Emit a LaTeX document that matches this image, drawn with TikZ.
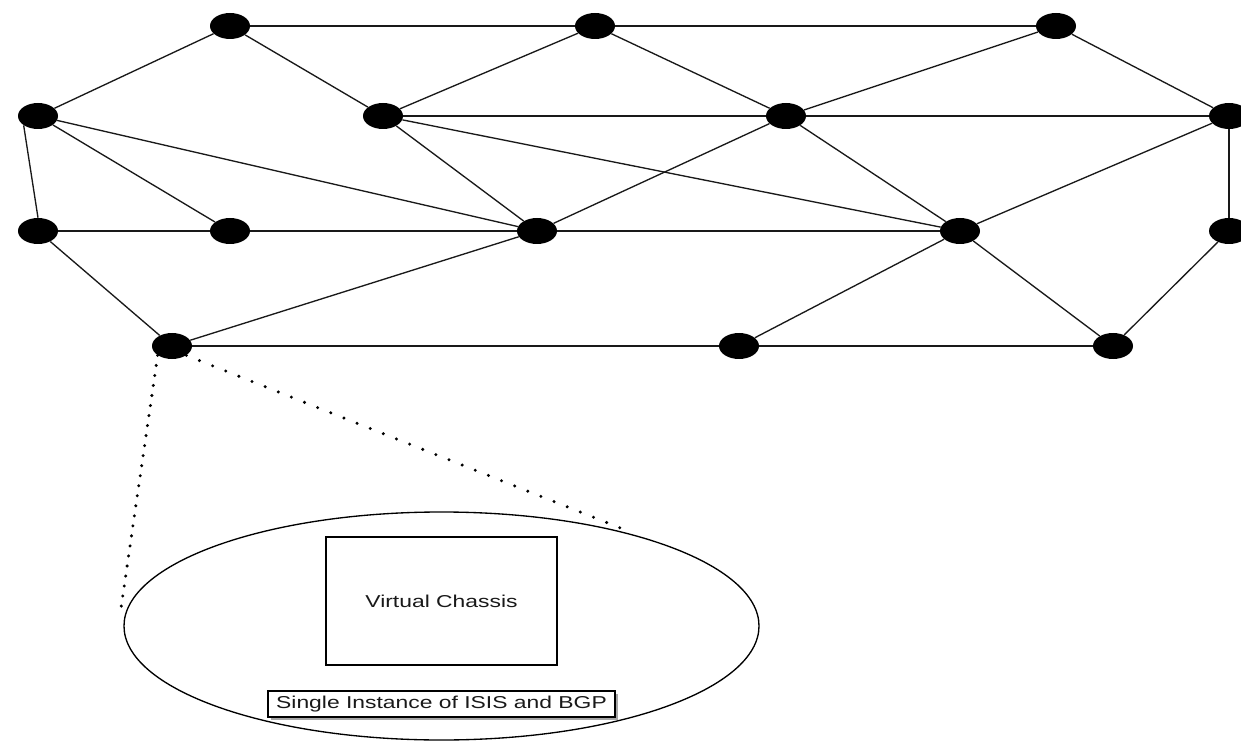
\documentclass[tikz,border=0pt]{standalone}
\usepackage{fontspec}
\usepackage{graphicx}
\setmainfont{Liberation Sans}
\usetikzlibrary{shapes.geometric,shadows}
\begin{document}
\begin{tikzpicture}[x=0.75pt,y=-0.75pt,
  dev/.style={ellipse,fill=black,draw=none,minimum width=30pt,minimum height=19.5pt,inner sep=0pt},
  link/.style={draw=black!90,line width=1pt},
  dots/.style={draw=black,line width=2.5pt,line cap=round,dash pattern=on 0pt off #1},
  lbl/.style={font=\fontsize{12.9pt}{14pt}\selectfont,text=black!90,inner sep=0pt},
  boxed/.style={draw=black,line width=1pt,fill=white}
]
\useasboundingbox (0,0) rectangle (1241,741);
\clip (0,0) rectangle (1241,741);

% devices
\node[dev] (A) at (230,26) {};
\node[dev] (B) at (595,26) {};
\node[dev] (C) at (1056,26) {};
\node[dev] (D) at (38,116) {};
\node[dev] (E) at (383,116) {};
\node[dev] (F) at (786,116) {};
\node[dev] (G) at (1229,116) {};
\node[dev] (H) at (38,231) {};
\node[dev] (I) at (230,231) {};
\node[dev] (J) at (537,231) {};
\node[dev] (K) at (960,231) {};
\node[dev] (L) at (1229,231) {};
\node[dev] (M) at (172,346) {};
\node[dev] (N) at (739,346) {};
\node[dev] (O) at (1113,346) {};

% links
\draw[link] (A) -- (B);
\draw[link] (B) -- (C);
\draw[link] (A) -- (D);
\draw[link] (A) -- (E);
\draw[link] (B) -- (E);
\draw[link] (B) -- (F);
\draw[link] (C) -- (F);
\draw[link] (C) -- (G);
\draw[link] (D.south west) -- (H.north);
\draw[link] (D) -- (I);
\draw[link] (D) -- (J);
\draw[link] (E) -- (F);
\draw[link] (E) -- (J);
\draw[link] (E) -- (K);
\draw[link] (F) -- (G);
\draw[link] (F) -- (J);
\draw[link] (F) -- (K);
\draw[link] (G) -- (K);
\draw[link] (G) -- (L);
\draw[link] (H) -- (I);
\draw[link] (H) -- (M);
\draw[link] (I) -- (J);
\draw[link] (J) -- (K);
\draw[link] (J) -- (M);
\draw[link] (K) -- (N);
\draw[link] (K) -- (O);
\draw[link] (L) -- (O);
\draw[link] (M) -- (N);
\draw[link] (N) -- (O);

% zoom-in ellipse
\node[ellipse,draw=black,line width=1pt,minimum width=476.25pt,minimum height=171pt,inner sep=0pt] (VC) at (441.5,626) {};
\coordinate (d1) at (120,615);
\coordinate (d2) at (623,529);
\draw[dots=7.6pt] (M.south west) -- (d1);
\draw[dots=10.6pt] (M.south east) -- (d2);

\node[boxed,lbl,minimum width=173.25pt,minimum height=96pt] (chassis) at (441.5,601) {\scalebox{1.33}[1]{Virtual Chassis}};
\node[boxed,lbl,minimum width=260.25pt,minimum height=19.5pt,
  drop shadow={shadow xshift=2.25pt,shadow yshift=-2.25pt,fill=black!35,opacity=1}] (inst) at (441.5,704) {\scalebox{1.33}[1]{Single Instance of ISIS and BGP}};
\end{tikzpicture}
\end{document}
